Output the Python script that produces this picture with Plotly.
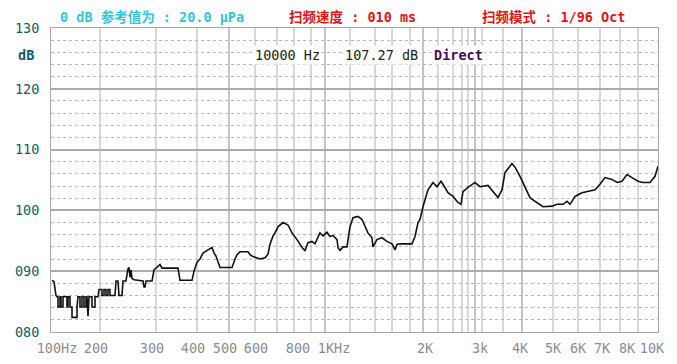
import numpy as np
import plotly.graph_objects as go

# ---------------- data ----------------
FREQ_HZ = [101.4, 104.3, 107.3, 108.8, 110.4, 110.4, 113.6, 113.6, 115.2, 115.2, 118.5, 118.5,
           125.4, 125.4, 127.2, 127.2, 130.8, 130.8, 134.6, 134.6, 144.5, 144.5, 146.5, 150.7,
           150.7, 155.0, 155.0, 159.5, 159.5, 164.1, 164.1, 166.4, 168.8, 171.2, 178.6, 178.6,
           186.3, 186.3, 194.4, 197.2, 202.9, 202.9, 205.9, 205.9, 208.9, 208.9, 211.9, 211.9,
           215.0, 215.0, 222.9, 224.6, 227.8, 229.5, 234.5, 236.2, 241.4, 244.9, 246.7, 248.6,
           250.4, 252.2, 255.9, 273.1, 275.1, 277.1, 279.1, 291.5, 295.7, 302.1, 308.6, 312.9,
           350.1, 355.0, 386.3, 391.7, 400.0, 408.4, 417.1, 431.9, 444.1, 450.3, 456.6, 469.6,
           510.7, 521.5, 528.9, 540.0, 571.2, 579.3, 591.6, 622.6, 645.9, 660.4, 670.2, 685.2,
           695.3, 710.9, 737.6, 765.3, 788.2, 817.5, 847.5, 865.9, 884.8, 910.6, 930.5, 950.9,
           964.7, 985.6, 1014, 1036, 1058, 1089, 1096, 1112, 1136, 1168, 1193, 1219, 1263, 1299,
           1327, 1355, 1394, 1404, 1444, 1497, 1550, 1606, 1641, 1664, 1700, 1850, 1890, 1931,
           1958, 2000, 2075, 2153, 2217, 2284, 2318, 2405, 2495, 2588, 2646, 2686, 2787, 2934,
           3040, 3140, 3203, 3309, 3419, 3510, 3579, 3746, 3821, 3948, 4087, 4237, 4392, 4653,
           4964, 5148, 5379, 5537, 5660, 5871, 6170, 6436, 6758, 7000, 7237, 7584, 7841, 8094,
           8336, 8584, 8892, 9157, 9542, 9826, 10000]
LEVEL_DB = [88.5, 88.3, 86.0, 85.8, 85.8, 84.1, 84.1, 85.8, 85.8, 84.1, 84.1, 85.8,
            85.8, 84.1, 84.1, 85.8, 85.8, 84.1, 84.1, 82.4, 82.4, 84.1, 85.8, 85.8,
            84.1, 84.1, 85.8, 85.8, 84.1, 84.1, 85.8, 85.8, 82.6, 85.8, 85.8, 84.1,
            84.1, 85.8, 85.8, 87.0, 87.0, 86.0, 86.0, 87.0, 87.0, 86.0, 86.0, 87.0,
            87.0, 86.0, 86.0, 88.4, 88.4, 86.0, 86.0, 88.4, 88.4, 90.4, 90.6, 89.0,
            90.2, 88.8, 88.6, 88.4, 87.4, 87.4, 88.4, 88.4, 90.2, 90.6, 91.1, 90.5,
            90.5, 88.5, 88.5, 90.0, 91.5, 92.0, 93.0, 93.5, 93.9, 93.0, 92.5, 90.6,
            90.6, 92.0, 92.7, 93.2, 93.2, 92.7, 92.4, 92.0, 92.2, 92.8, 94.4, 95.8,
            96.3, 97.3, 98.0, 97.6, 96.3, 95.2, 93.9, 93.4, 94.7, 94.9, 94.5, 95.6,
            96.3, 95.8, 96.4, 95.7, 95.9, 95.2, 93.9, 93.4, 94.0, 94.0, 97.3, 98.8, 99.0, 98.5,
            97.3, 96.3, 95.5, 94.0, 95.2, 95.5, 94.9, 94.5, 93.5, 94.4, 94.5, 94.5, 95.7, 98.0,
            98.5, 100.6, 103.4, 104.6, 103.9, 104.8, 104.3, 102.9, 102.3, 101.3, 101.0, 103.1, 103.8, 104.6,
            103.9, 104.0, 104.1, 103.1, 102.1, 103.4, 106.2, 107.7, 107.1, 105.6, 103.9, 102.1, 101.5, 100.6,
            100.7, 101.0, 101.0, 101.5, 101.0, 102.3, 102.9, 103.1, 103.4, 104.3, 105.4, 105.1, 104.6, 104.8,
            105.9, 105.4, 104.8, 104.6, 104.6, 105.6, 107.27]

TICK_FREQ = [100, 200, 300, 400, 500, 600, 800, 1000, 2000, 3000, 4000, 5000, 6000, 7000, 8000, 10000]
TICK_TEXT = ["100Hz", "200", "300", "400", "500", "600", "800", "1KHz", "2K", "3k", "4K",
             "5K", "6K", "7K", "8K", "10K"]
Y_TICKS = [80, 90, 100, 110, 120, 130]
Y_TEXT = ["080", "090", "100", "110", "120", "130"]

HEADER_REF = "0 dB 参考值为 : 20.0 μPa"
HEADER_SPEED = "扫频速度 : 010 ms"
HEADER_MODE = "扫频模式 : 1/96 Oct"
CURSOR_FREQ = "10000 Hz"
CURSOR_LEVEL = "107.27 dB"
CURSOR_MODE = "Direct"

# ------------- instrument screen scale (layout) -------------
# the analyser's frequency axis is not a true log axis: piecewise-log between these anchors
ANCHOR_POS = [0, 49, 105, 146, 178, 204, 243, 274, 372, 427, 471, 502, 527, 549, 569, 607]
LABEL_SHIFT = [6, -4, -4, -4, -4, 1, 4, 9, 2, 2, -2, 0, 0, 2, 7, -6]
GRID_POS = [49, 105, 146, 178, 204, 226, 243, 260, 274, 299, 324, 341, 359, 372, 387, 402,
            411, 417, 424, 431, 452, 471, 502, 527, 549, 569, 587]
DARK_GRID = [178, 274, 372, 424, 471]
X_SPAN = 607.0


def to_pos(f):
    return np.interp(np.log10(np.asarray(f, dtype=float)), np.log10(TICK_FREQ), ANCHOR_POS)


MONO = "DejaVu Sans Mono, Noto Sans CJK SC, monospace"

fig = go.Figure()
fig.add_trace(go.Scatter(x=to_pos(FREQ_HZ), y=LEVEL_DB, mode="lines",
                         line=dict(color="#111111", width=1.6), showlegend=False,
                         hoverinfo="skip"))

shapes = []
for gx in GRID_POS:
    shapes.append(dict(type="line", xref="x", yref="paper", x0=gx, x1=gx, y0=0, y1=1,
                       layer="below",
                       line=dict(color="#8a8a8a" if gx in DARK_GRID else "#b0b0b0", width=1)))
fig.update_layout(shapes=shapes)

tickvals = list(to_pos(TICK_FREQ) + np.array(LABEL_SHIFT))

fig.update_xaxes(range=[0, X_SPAN], showgrid=False, zeroline=False, automargin=False,
                 tickvals=tickvals, ticktext=TICK_TEXT, ticks="",
                 tickfont=dict(family=MONO, size=13.5, color="#8c8c8c"),
                 ticklabelstandoff=4,
                 showline=True, linecolor="#a8a8a8", linewidth=1, mirror=True)
fig.update_yaxes(range=[80, 130], tickvals=Y_TICKS, ticktext=Y_TEXT, zeroline=False,
                 automargin=False,
                 showgrid=True, gridcolor="#ababab", gridwidth=2,
                 minor=dict(dtick=2, showgrid=True, gridcolor="#b8b8b8", griddash="dot",
                            gridwidth=1),
                 ticks="", tickfont=dict(family=MONO, size=13.5, color="#0b5f66"),
                 tickprefix="<b>", ticksuffix="</b>",
                 ticklabelstandoff=8,
                 showline=True, linecolor="#a8a8a8", linewidth=1, mirror=True)


def px(pos):
    return pos / X_SPAN


ROW1 = 1.036
ROW2 = 0.911
ann = []
ann.append(dict(text="<b>%s</b>" % HEADER_REF, x=px(7), y=ROW1,
                font=dict(family=MONO, size=13.5, color="#33c6d6")))
ann.append(dict(text="<b>%s</b>" % HEADER_SPEED, x=px(236), y=ROW1,
                font=dict(family=MONO, size=13.5, color="#e01515")))
ann.append(dict(text="<b>%s</b>" % HEADER_MODE, x=px(429), y=ROW1,
                font=dict(family=MONO, size=13.5, color="#e01515")))
ann.append(dict(text=CURSOR_FREQ, x=px(202), y=ROW2, bgcolor="white",
                font=dict(family=MONO, size=13.5, color="#222222")))
ann.append(dict(text=CURSOR_LEVEL, x=px(292), y=ROW2, bgcolor="white",
                font=dict(family=MONO, size=13.5, color="#222222")))
ann.append(dict(text="<b>%s</b>" % CURSOR_MODE, x=px(381), y=ROW2, bgcolor="white",
                font=dict(family=MONO, size=13.5, color="#4a0a5a")))
for a in ann:
    a.update(xref="paper", yref="paper", xanchor="left", yanchor="middle", showarrow=False)
ann.append(dict(text="<b>dB</b>", x=px(-25), y=ROW2, xref="paper", yref="paper",
                xanchor="center", yanchor="middle", showarrow=False,
                font=dict(family=MONO, size=13.5, color="#0b5f66")))
fig.update_layout(annotations=ann)

# page body has an 8px margin: offset the figure so the plot lands where the reference has it
fig.update_layout(width=669, height=356, margin=dict(l=43, r=19, t=20, b=32),
                  paper_bgcolor="white", plot_bgcolor="white")

fig.write_html("out.html")
